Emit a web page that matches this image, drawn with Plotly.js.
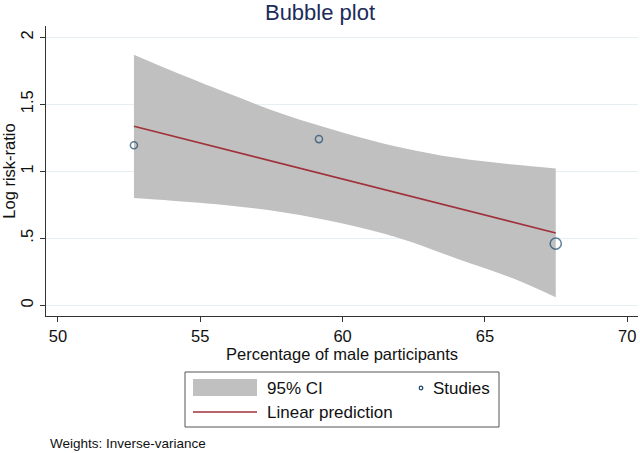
<!DOCTYPE html>
<html>
<head>
<meta charset="utf-8">
<script src="https://cdn.plot.ly/plotly-3.0.1.min.js"></script>
<style>
  html, body { margin: 0; padding: 0; background: #fff; }
  #plot { width: 640px; height: 453px; }
</style>
</head>
<body>
<div id="plot"></div>
<script>
// Studies (meta-regression input)
const studyX = [52.67, 59.17, 67.49];
const studyY = [1.194, 1.24, 0.46];
const studyWeight = [1, 1, 2.5]; // relative inverse-variance weights

// Fitted line
const predX = [52.67, 67.49];
const predY = [1.336, 0.54];

// 95% CI band
const ciX = [52.67, 54, 56, 58, 60, 62, 64, 66, 67.49];
const ciUpper = [1.87, 1.75, 1.58, 1.42, 1.29, 1.18, 1.10, 1.05, 1.02];
const ciLower = [0.80, 0.78, 0.745, 0.69, 0.61, 0.50, 0.35, 0.20, 0.06];

const xTicks = [50, 55, 60, 65, 70];
const yTicks = [0, 0.5, 1, 1.5, 2];
const yTickText = ['0', '.5', '1', '1.5', '2'];

const navy = '#1a476f';
const maroon = '#a0303a';
const band = '#c0c0c0';
const font = 'Liberation Sans, Arial, sans-serif';

// plot area in pixels
const L = 46, T = 26, W = 592, H = 290;
const px = x => (x - L) / W;
const py = y => (T + H - y) / H;

// upper edge left->right, then lower edge filled up to it, both smoothed
const upperEdge = {
  x: ciX, y: ciUpper,
  type: 'scatter', mode: 'lines',
  line: { width: 0, color: band, shape: 'spline', smoothing: 1 },
  hoverinfo: 'skip', showlegend: false
};
const lowerEdge = {
  x: ciX, y: ciLower,
  type: 'scatter', mode: 'lines',
  fill: 'tonexty', fillcolor: band,
  line: { width: 0, color: band, shape: 'spline', smoothing: 1 },
  hoverinfo: 'skip', showlegend: false
};

const pred = {
  x: predX, y: predY,
  type: 'scatter',
  mode: 'lines',
  line: { color: maroon, width: 1.6 },
  showlegend: false
};

const studies = {
  x: studyX, y: studyY,
  type: 'scatter',
  mode: 'markers',
  marker: {
    symbol: 'circle-open',
    color: navy,
    size: studyWeight,
    sizemode: 'area',
    sizeref: 0.04,
    line: { width: 1.5, color: navy }
  },
  showlegend: false
};

// Legend (drawn by hand to keep Stata's layout)
const shapes = [
  { type: 'rect', xref: 'paper', yref: 'paper',
    x0: px(185), x1: px(499), y0: py(372), y1: py(427),
    line: { color: '#555', width: 1 }, fillcolor: 'rgba(0,0,0,0)' },
  { type: 'rect', xref: 'paper', yref: 'paper',
    x0: px(193), x1: px(257), y0: py(379), y1: py(396),
    line: { width: 0 }, fillcolor: band },
  { type: 'line', xref: 'paper', yref: 'paper',
    x0: px(193), x1: px(257), y0: py(412), y1: py(412),
    line: { color: maroon, width: 1.6 } },
  { type: 'circle', xref: 'paper', yref: 'paper',
    x0: px(419.2), x1: px(422.8), y0: py(386.2), y1: py(389.8),
    line: { color: navy, width: 1.2 } }
];

const txt = (text, x, y, size) => ({
  text, xref: 'paper', yref: 'paper', x: px(x), y: py(y),
  xanchor: 'left', yanchor: 'middle', showarrow: false,
  font: { family: font, size, color: '#111' }
});

const annotations = [
  txt('95% CI', 265, 388, 17),
  txt('Studies', 431, 388, 17),
  txt('Linear prediction', 265, 412, 17),
  txt('Weights: Inverse-variance', 48, 443, 13.5)
];

const layout = {
  width: 640, height: 453,
  margin: { l: L, r: 640 - L - W, t: T, b: 453 - T - H },
  paper_bgcolor: '#fff',
  plot_bgcolor: '#fff',
  font: { family: font, size: 16.5, color: '#111' },
  title: {
    text: 'Bubble plot',
    font: { family: font, size: 22, color: '#1c2b5a' },
    x: 0.5, xanchor: 'center', y: 1, yanchor: 'top',
    pad: { t: 5 }
  },
  xaxis: {
    range: [49.58, 70.38],
    tickvals: xTicks,
    showgrid: false, zeroline: false,
    showline: true, linecolor: '#333', linewidth: 1,
    ticks: 'outside', ticklen: 5, tickcolor: '#333',
    tickfont: { size: 16.5 },
    title: { text: 'Percentage of male participants', standoff: 2, font: { size: 16.5 } },
    automargin: false
  },
  yaxis: {
    range: [-0.08, 2.084],
    tickvals: yTicks,
    ticktext: yTickText,
    tickangle: -90,
    showgrid: true, gridcolor: '#e6eff1', gridwidth: 1,
    zeroline: false,
    showline: true, linecolor: '#333', linewidth: 1,
    ticks: 'outside', ticklen: 5, tickcolor: '#333',
    tickfont: { size: 16.5 },
    title: { text: 'Log risk-ratio', standoff: 4, font: { size: 16.5 } },
    automargin: false
  },
  shapes,
  annotations,
  showlegend: false,
  hovermode: false
};

Plotly.newPlot('plot', [upperEdge, lowerEdge, pred, studies], layout, { displayModeBar: false, staticPlot: true });
</script>
</body>
</html>
